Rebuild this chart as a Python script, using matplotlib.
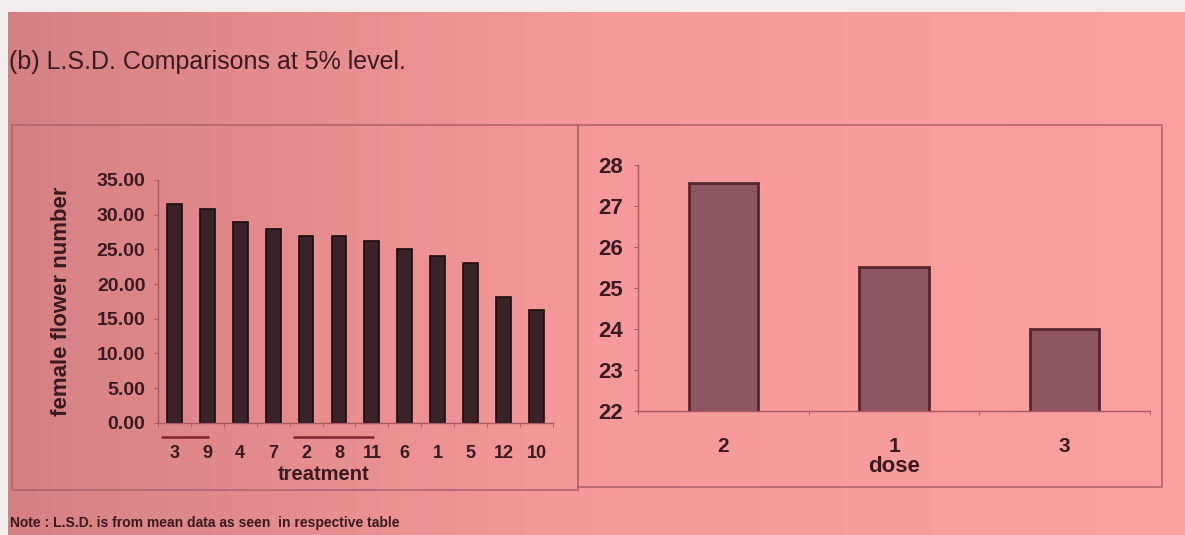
import numpy as np
import matplotlib
matplotlib.use("Agg")
import matplotlib.pyplot as plt
from matplotlib.patches import Rectangle

plt.rcParams['font.family'] = ['Liberation Sans', 'DejaVu Sans']

# treatment means, sorted high to low
treatments = ['3', '9', '4', '7', '2', '8', '11', '6', '1', '5', '12', '10']
flowers = [31.5, 30.8, 29.0, 28.0, 26.9, 26.9, 26.2, 25.0, 24.0, 23.1, 18.1, 16.3]
# treatments joined by an L.S.D. line (positions in the list above)
lsd_groups = [[0, 1], [4, 5, 6]]

doses = ['2', '1', '3']
dose_means = [27.55, 25.5, 24.0]

txt = '#3a1a20'
axc = '#a85a64'

fig = plt.figure(figsize=(11.85, 5.35), dpi=100)

# page background, darker on the left where the photo is in shadow
bg = fig.add_axes([0, 0, 1, 1], zorder=-5)
xs = np.linspace(0, 1, 400)
left = np.array([212, 128, 130]) / 255
mid = np.array([246, 153, 154]) / 255
right = np.array([253, 160, 160]) / 255
row = np.where(xs[:, None] < 0.5,
               left + (mid - left) * (xs[:, None] / 0.5),
               mid + (right - mid) * ((xs[:, None] - 0.5) / 0.5))
img = np.repeat(row[None, :, :], 200, axis=0)
bg.imshow(img, aspect='auto', extent=[0, 1, 0, 1])
bg.add_patch(Rectangle((0, 1 - 12 / 535), 1, 12 / 535, color='#f2ecec', lw=0))
bg.add_patch(Rectangle((0, 0), 8 / 1185, 1, color='#f2ecec', lw=0))
bg.set_xlim(0, 1)
bg.set_ylim(0, 1)
bg.axis('off')

# panel frames
for x0, y0, w, h in [(0.0101, 0.0841, 0.4776, 0.6822), (0.4878, 0.0897, 0.4928, 0.6766)]:
    fig.patches.append(Rectangle((x0, y0), w, h, transform=fig.transFigure,
                                 fill=False, ec='#b06670', lw=1.2))

fig.text(9 / 1185, 1 - 62 / 535, '(b) L.S.D. Comparisons at 5% level.',
         fontsize=18, color=txt, va='center', ha='left')
fig.text(10 / 1185, 1 - 523 / 535,
         'Note : L.S.D. is from mean data as seen  in respective table',
         fontsize=10, fontweight='bold', color=txt, va='center', ha='left')

# ---- left chart: treatments
ax1 = fig.add_axes([0.1333, 0.2099, 0.3333, 0.4537])
ax1.patch.set_alpha(0)
x = np.arange(len(treatments))
ax1.bar(x, flowers, width=0.45, color='#3a2328', edgecolor='#1a0c0e', lw=1.2)
ax1.set_xlim(-0.5, len(treatments) - 0.5)
ax1.set_ylim(0, 35)
ax1.set_yticks(np.arange(0, 36, 5))
ax1.set_yticklabels([f'{v:.2f}' for v in np.arange(0, 36, 5)])
ax1.set_xticks(x)
ax1.set_xticklabels(treatments)
ax1.set_xticks(np.arange(-0.5, len(treatments), 1), minor=True)
ax1.tick_params(axis='x', which='major', length=0, pad=16, labelsize=13, labelcolor=txt)
ax1.tick_params(axis='x', which='minor', length=3, color=axc, direction='out')
ax1.tick_params(axis='y', length=3, color=axc, pad=6, labelsize=14, labelcolor=txt)
for lab in ax1.get_xticklabels() + ax1.get_yticklabels():
    lab.set_fontweight('bold')
for s in ['top', 'right']:
    ax1.spines[s].set_visible(False)
for s in ['left', 'bottom']:
    ax1.spines[s].set_color(axc)
    ax1.spines[s].set_linewidth(1)
for g in lsd_groups:
    ax1.plot([g[0] - 0.4, g[-1] + 0.05], [-2.1, -2.1], color='#7e2431', lw=1.8,
             clip_on=False, solid_capstyle='butt')
ax1.text(0.42, -0.175, 'treatment', transform=ax1.transAxes, ha='center', va='top',
         fontsize=14.5, fontweight='bold', color=txt)
fig.text(62 / 1185, 1 - 301 / 535, 'female flower number', rotation=90,
         ha='center', va='center', fontsize=16, fontweight='bold', color=txt)

# ---- right chart: dose
ax2 = fig.add_axes([0.5384, 0.2318, 0.4321, 0.4598])
ax2.patch.set_alpha(0)
xd = np.arange(len(doses))
ax2.bar(xd, dose_means, width=0.405, color='#8c5560', edgecolor='#552630', lw=2)
ax2.set_xlim(-0.5, len(doses) - 0.5)
ax2.set_ylim(22, 28)
ax2.set_yticks(np.arange(22, 29, 1))
ax2.set_xticks(xd)
ax2.set_xticklabels(doses)
ax2.set_xticks(np.arange(-0.5, len(doses), 1), minor=True)
ax2.tick_params(axis='x', which='major', length=0, pad=19, labelsize=15, labelcolor=txt)
ax2.tick_params(axis='x', which='minor', length=3, color=axc, direction='out')
ax2.tick_params(axis='y', length=3, color=axc, pad=8, labelsize=16, labelcolor=txt)
for lab in ax2.get_xticklabels() + ax2.get_yticklabels():
    lab.set_fontweight('bold')
for s in ['top', 'right']:
    ax2.spines[s].set_visible(False)
for s in ['left', 'bottom']:
    ax2.spines[s].set_color(axc)
    ax2.spines[s].set_linewidth(1)
ax2.set_xlabel('dose', fontsize=16, fontweight='bold', color=txt, labelpad=0)

fig.savefig('out.png', dpi=100)
